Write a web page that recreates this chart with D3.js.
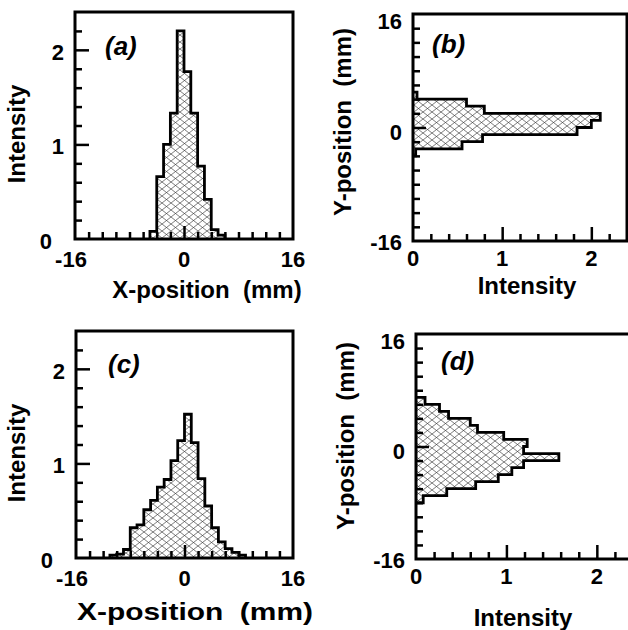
<!DOCTYPE html>
<html>
<head>
<meta charset="utf-8">
<script src="https://cdn.jsdelivr.net/npm/d3@7"></script>
<style>
  body { margin: 0; background: #fff; }
  text { font-family: "Liberation Sans", Arial, Helvetica, sans-serif; font-weight: bold; fill: #000; }
</style>
</head>
<body>
<div id="chart"></div>
<script>
// bin edges (mm) and intensities
var edgesA = [-5, -4, -3, -2, -1, 0, 1, 2, 3, 4, 5, 6];
var intensityA = [0.08, 0.66, 1.0, 1.33, 2.2, 1.77, 1.33, 0.77, 0.42, 0.1, 0.04];

var edgesB = [5, 4, 3, 2, 1, 0, -1, -2, -3, -4];
var intensityB = [0.045, 0.6, 0.8, 2.1, 2.0, 1.84, 0.78, 0.55, 0.03];

var edgesC = [-11, -10, -9, -8, -7, -6, -5, -4, -3, -2, -1, 0, 1, 2, 3, 4, 5, 6, 7, 8, 9];
var intensityC = [0.03, 0.04, 0.09, 0.32, 0.35, 0.51, 0.61, 0.75, 0.83, 1.03, 1.24, 1.52,
                  1.22, 0.84, 0.55, 0.32, 0.17, 0.10, 0.06, 0.03];

var edgesD = [7, 6, 5, 4, 3, 2, 1, 0, -1, -2, -3, -4, -5, -6, -7, -8];
var intensityD = [0.1, 0.26, 0.36, 0.6, 0.68, 0.97, 1.23, 1.19, 1.58, 1.19, 1.06, 0.91, 0.66, 0.34, 0.08];

// axis ticks
var posMinor = [-14, -12, -10, -8, -6, -4, -2, 2, 4, 6, 8, 10, 12, 14];
var posMajor = [0];
var posLabels = [-16, 0, 16];
var intMinor = [0.2, 0.4, 0.6, 0.8, 1.2, 1.4, 1.6, 1.8, 2.2];
var intMajor = [1, 2];
var intLabels = [0, 1, 2];

var w = 628, h = 630;
var svg = d3.select("#chart").append("svg")
    .attr("width", w)
    .attr("height", h);

// crosshatch fill
var pat = svg.append("defs").append("pattern")
    .attr("id", "hatch")
    .attr("patternUnits", "userSpaceOnUse")
    .attr("width", 9)
    .attr("height", 7);
pat.append("path")
    .attr("d", "M0,0L9,7M0,7L9,0")
    .attr("stroke", "#444")
    .attr("stroke-width", 0.7);

var panels = [
  { label: "(a)", vertical: true, left: 75, right: 293, top: 12, bottom: 239,
    edges: edgesA, vals: intensityA, lab: [105, 55],
    xTitle: [207, 298, 0], yTitle: [25, 134] },
  { label: "(b)", vertical: false, left: 413, right: 627, top: 14, bottom: 241,
    edges: edgesB, vals: intensityB, lab: [432, 53],
    xTitle: [527, 294, 0], yTitle: [351, 122] },
  { label: "(c)", vertical: true, left: 76, right: 293, top: 331, bottom: 558,
    edges: edgesC, vals: intensityC, lab: [108, 373],
    xTitle: [195, 620, 236], yTitle: [25, 453] },
  { label: "(d)", vertical: false, left: 416, right: 633, top: 334, bottom: 559,
    edges: edgesD, vals: intensityD, lab: [441, 370],
    xTitle: [523, 626, 0], yTitle: [354, 436] }
];

panels.forEach(function (p) {
  var g = svg.append("g");
  var pos, inten;
  if (p.vertical) {
    pos = d3.scaleLinear().domain([-16, 16]).range([p.left, p.right]);
    inten = d3.scaleLinear().domain([0, 2.4]).range([p.bottom, p.top]);
  } else {
    pos = d3.scaleLinear().domain([-16, 16]).range([p.bottom, p.top]);
    inten = d3.scaleLinear().domain([0, 2.4]).range([p.left, p.right]);
  }

  // step outline of the histogram
  var pts = [[p.edges[0], 0]];
  p.vals.forEach(function (v, i) {
    pts.push([p.edges[i], v]);
    pts.push([p.edges[i + 1], v]);
  });
  pts.push([p.edges[p.edges.length - 1], 0]);
  var line = d3.line()
    .x(function (d) { return p.vertical ? pos(d[0]) : inten(d[1]); })
    .y(function (d) { return p.vertical ? inten(d[1]) : pos(d[0]); });
  g.append("path")
    .attr("d", line(pts))
    .attr("fill", "url(#hatch)")
    .attr("stroke", "#000")
    .attr("stroke-width", 2.8)
    .attr("stroke-linejoin", "miter");

  // inward ticks
  function ticks(axisFn, scale, vals, size, tr) {
    var a = g.append("g")
      .attr("transform", tr)
      .call(axisFn(scale).tickValues(vals).tickSize(-size).tickFormat(""));
    a.select(".domain").remove();
    a.selectAll("line").attr("stroke", "#000").attr("stroke-width", 2.5);
  }
  if (p.vertical) {
    ticks(d3.axisBottom, pos, posMinor, 7, "translate(0," + p.bottom + ")");
    ticks(d3.axisBottom, pos, posMajor, 13, "translate(0," + p.bottom + ")");
    ticks(d3.axisLeft, inten, intMinor, 7, "translate(" + p.left + ",0)");
    ticks(d3.axisLeft, inten, intMajor, 14, "translate(" + p.left + ",0)");
  } else {
    ticks(d3.axisLeft, pos, posMinor, 7, "translate(" + p.left + ",0)");
    ticks(d3.axisLeft, pos, posMajor, 13, "translate(" + p.left + ",0)");
    ticks(d3.axisBottom, inten, intMinor, 7, "translate(0," + p.bottom + ")");
    ticks(d3.axisBottom, inten, intMajor, 14, "translate(0," + p.bottom + ")");
  }

  // frame
  g.append("rect")
    .attr("x", p.left).attr("y", p.top)
    .attr("width", p.right - p.left).attr("height", p.bottom - p.top)
    .attr("fill", "none").attr("stroke", "#000").attr("stroke-width", 3);

  // tick labels
  if (p.vertical) {
    posLabels.forEach(function (v) {
      g.append("text")
        .attr("x", pos(v) + (v < 0 ? -4 : 0))
        .attr("y", p.bottom + 28)
        .attr("text-anchor", "middle")
        .style("font-size", "22px")
        .text(v);
    });
    intLabels.forEach(function (v) {
      var zero = v === 0;
      g.append("text")
        .attr("x", zero ? p.left - 23 : p.left - 11)
        .attr("y", zero ? p.bottom + 10 : inten(v) + 10)
        .attr("text-anchor", "end")
        .style("font-size", "22px")
        .text(v);
    });
  } else {
    intLabels.forEach(function (v) {
      g.append("text")
        .attr("x", inten(v))
        .attr("y", p.bottom + 25)
        .attr("text-anchor", "middle")
        .style("font-size", "22px")
        .text(v);
    });
    posLabels.forEach(function (v) {
      var off = v > 0 ? 15 : (v < 0 ? 9 : 12);
      var y = v > 0 ? p.top : (v < 0 ? p.bottom : pos(v));
      g.append("text")
        .attr("x", p.left - 11)
        .attr("y", y + off)
        .attr("text-anchor", "end")
        .style("font-size", "22px")
        .text(v);
    });
  }

  // axis titles
  var xt = g.append("text")
    .attr("x", p.xTitle[0])
    .attr("y", p.xTitle[1])
    .attr("text-anchor", "middle")
    .style("font-size", "24px")
    .style("white-space", "pre")
    .text(p.vertical ? "X-position  (mm)" : "Intensity");
  if (p.xTitle[2]) {
    xt.attr("textLength", p.xTitle[2]).attr("lengthAdjust", "spacingAndGlyphs");
  }
  g.append("text")
    .attr("transform", "translate(" + p.yTitle[0] + "," + p.yTitle[1] + ") rotate(-90)")
    .attr("text-anchor", "middle")
    .style("font-size", "24px")
    .style("white-space", "pre")
    .text(p.vertical ? "Intensity" : "Y-position  (mm)");

  // panel letter
  g.append("text")
    .attr("x", p.lab[0])
    .attr("y", p.lab[1])
    .style("font-size", "26px")
    .style("font-style", "italic")
    .text(p.label);
});
</script>
</body>
</html>
